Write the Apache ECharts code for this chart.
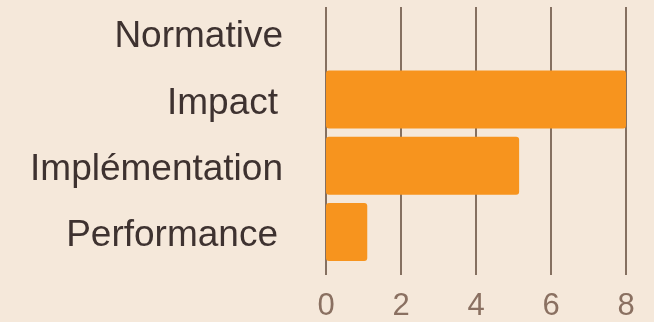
<!DOCTYPE html>
<html>
<head>
<meta charset="utf-8">
<script src="https://cdn.jsdelivr.net/npm/echarts@6/dist/echarts.min.js"></script>
<style>
  html, body { margin: 0; padding: 0; background: #f5e8da; }
  #chart { width: 654px; height: 322px; }
</style>
</head>
<body>
<div id="chart"></div>
<script>
// Categories, top to bottom
const categories = ['Normative', 'Impact', 'Implémentation', 'Performance'];
const scores = [0, 8, 5.15, 1.1];
const xTicks = [0, 2, 4, 6, 8];

// a couple of labels sit slightly further from the axis
const insetLabels = ['Impact', 'Performance'];

const chart = echarts.init(document.getElementById('chart'), null, { renderer: 'canvas' });

const font = 'Liberation Sans, Arial, sans-serif';
const labelText = { fontSize: 37, color: '#3e3230', fontFamily: font };

chart.setOption({
  backgroundColor: '#f5e8da',
  animation: false,
  grid: [
    // bars and category labels
    { left: 326, right: 28, top: -1, height: 266 },
    // vertical grid lines and value labels
    { left: 326, right: 28, top: 7, bottom: 41 }
  ],
  xAxis: [
    { gridIndex: 0, type: 'value', min: xTicks[0], max: xTicks[xTicks.length - 1], show: false },
    {
      gridIndex: 1, type: 'value', min: xTicks[0], max: xTicks[xTicks.length - 1], interval: 2,
      axisLine: { show: false }, axisTick: { show: false },
      axisLabel: { fontSize: 31, color: '#8a7061', fontFamily: font, margin: 16 },
      splitLine: { show: true, lineStyle: { color: '#857060', width: 2 } }
    }
  ],
  yAxis: [
    {
      gridIndex: 0, type: 'category', inverse: true, data: categories,
      axisLine: { show: false }, axisTick: { show: false },
      axisLabel: {
        ...labelText,
        margin: 43,
        formatter: c => insetLabels.includes(c) ? `{inset|${c}}` : `{plain|${c}}`,
        rich: {
          plain: { ...labelText, padding: [8, 0, 0, 0] },
          inset: { ...labelText, padding: [8, 5, 0, 0] }
        }
      }
    },
    { gridIndex: 1, type: 'value', show: false, splitLine: { show: false } }
  ],
  series: [{
    type: 'bar',
    xAxisIndex: 0,
    yAxisIndex: 0,
    data: scores,
    barWidth: 58,
    itemStyle: { color: '#f7941e', borderRadius: 3 },
    z: 3
  }]
});
</script>
</body>
</html>
